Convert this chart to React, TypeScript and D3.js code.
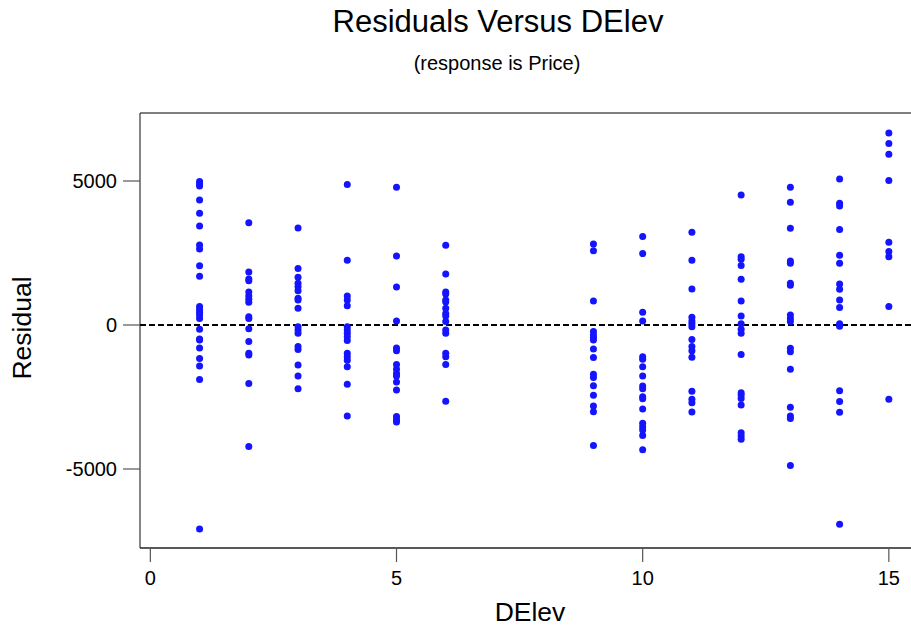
import React from 'react'
import { scaleLinear } from 'd3'

// residuals, one array per DElev level
const levels = [1, 2, 3, 4, 5, 6, 9, 10, 11, 12, 13, 14, 15]
const res1 = [4980, 4900, 4830, 4340, 3880, 3440, 2780, 2640, 2060, 1690, 640, 540, 440, 350, 230, -150, -490, -520, -800, -1160, -1420, -1890, -7080]
const res2 = [3550, 1840, 1600, 1540, 1150, 1010, 890, 790, 290, 230, -130, -570, -980, -1040, -2030, -4220]
const res3 = [3370, 1960, 1660, 1450, 1330, 1190, 930, 870, 580, -60, -170, -290, -750, -850, -1390, -1770, -2210]
const res4 = [4880, 2250, 1010, 870, 670, -60, -170, -290, -410, -540, -980, -1100, -1220, -1450, -2060, -3160]
const res5 = [4780, 2400, 1320, 140, -800, -890, -1370, -1540, -1680, -1770, -1980, -2260, -3180, -3280, -3370]
const res6 = [2770, 1770, 1150, 1080, 870, 800, 580, 400, 310, 120, -170, -290, -980, -1100, -1370, -2650]
const res9 = [2810, 2580, 830, -230, -350, -430, -520, -830, -1130, -1710, -1820, -2110, -2440, -2810, -3010, -4180]
const res10 = [3070, 2480, 440, 140, -1100, -1190, -1450, -1770, -2120, -2210, -2490, -2560, -2920, -3410, -3530, -3650, -3840, -4330]
const res11 = [3220, 2250, 1250, 270, 140, 40, -60, -500, -750, -890, -1120, -2300, -2580, -2700, -3020]
const res12 = [4510, 2370, 2280, 2070, 1590, 830, 310, 40, -150, -290, -1020, -2350, -2430, -2550, -2780, -3740, -3850, -3970]
const res13 = [4780, 4260, 3360, 2220, 2140, 1450, 1380, 350, 230, 120, -810, -930, -1540, -2860, -3160, -3250, -4880]
const res14 = [5070, 4230, 4130, 3320, 2420, 2140, 1420, 1240, 870, 610, 40, -40, -2280, -2660, -3030, -6920]
const res15 = [6670, 6300, 5930, 5020, 2870, 2550, 2370, 640, -2580]
const residuals = [res1, res2, res3, res4, res5, res6, res9, res10, res11, res12, res13, res14, res15]

const xTicks = [0, 5, 10, 15]
const yTicks = [5000, 0, -5000]

const title = 'Residuals Versus DElev'
const subtitle = '(response is Price)'
const xLabel = 'DElev'
const yLabel = 'Residual'

export default function App() {
  const width = 911,
        height = 628
  const left = 140, right = 911, top = 113, bottom = 548

  const x = scaleLinear().domain([-0.21, 15.45]).range([left, right])
  const y = scaleLinear().domain([-7743, 7361]).range([bottom, top])

  const font = 'Liberation Sans, Arial, sans-serif'

  const points = levels.flatMap((lv, i) => residuals[i].map(r => ({ lv, r })))

  return (
    <svg width={width} height={height} style={{ position: 'fixed', top: 0, left: 0, background: '#fff' }}
      fontFamily={font}>
      <text x={498} y={32} fontSize={31} textAnchor='middle' fill='#000'>{title}</text>
      <text x={497} y={70} fontSize={20} textAnchor='middle' fill='#000'>{subtitle}</text>

      {/* frame */}
      <line x1={left} x2={width} y1={top} y2={top} stroke='#000' strokeWidth={1.2} />
      <line x1={left} x2={left} y1={top} y2={bottom} stroke='#444' strokeWidth={1.3} />
      <line x1={left} x2={width} y1={bottom} y2={bottom} stroke='#222' strokeWidth={1.3} />

      {/* y axis */}
      {yTicks.map(t => (
        <g key={t}>
          <line x1={123} x2={left} y1={y(t)} y2={y(t)} stroke='#555' strokeWidth={1.2} />
          <text x={117} y={y(t) + 7} fontSize={20} textAnchor='end' fill='#000'>{t}</text>
        </g>
      ))}

      {/* x axis */}
      {xTicks.map(t => (
        <g key={t}>
          <line x1={x(t)} x2={x(t)} y1={bottom} y2={bottom + 14} stroke='#555' strokeWidth={1.2} />
          <text x={x(t)} y={585} fontSize={20} textAnchor='middle' fill='#000'>{t}</text>
        </g>
      ))}

      <text x={530} y={621} fontSize={26.5} textAnchor='middle' fill='#000'>{xLabel}</text>
      <text transform={`translate(31, 328) rotate(-90)`} fontSize={26.5} textAnchor='middle' fill='#000'>{yLabel}</text>

      {/* zero reference line */}
      <line x1={left} x2={width} y1={y(0)} y2={y(0)} stroke='#000' strokeWidth={1.2}
        strokeDasharray='6,3' shapeRendering='crispEdges' />

      {points.map((p, i) => (
        <circle key={i} cx={x(p.lv)} cy={y(p.r)} r={3.5} fill='#1414ff' />
      ))}
    </svg>
  )
}
